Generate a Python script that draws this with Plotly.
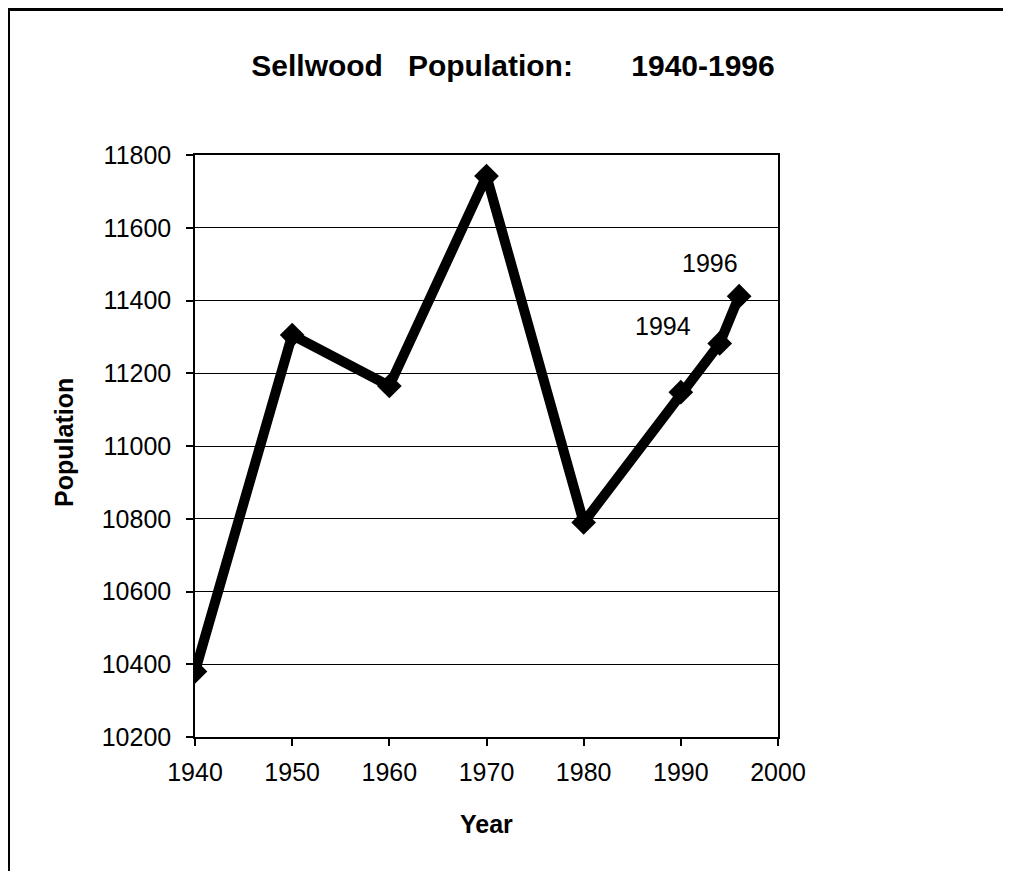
import plotly.graph_objects as go

years = [1940, 1950, 1960, 1970, 1980, 1990, 1994, 1996]
population = [10380, 11305, 11165, 11742, 10790, 11148, 11282, 11412]

y_ticks = [10200, 10400, 10600, 10800, 11000, 11200, 11400, 11600, 11800]
x_ticks = [1940, 1950, 1960, 1970, 1980, 1990, 2000]

labelled_years = [1994, 1996]
label_shifts = {1994: (-57, 17), 1996: (-29, 33)}

FONT = "Liberation Sans, Arial, sans-serif"

fig = go.Figure()
fig.add_trace(go.Scatter(
    x=years, y=population, mode="lines+markers",
    line=dict(color="black", width=10),
    marker=dict(symbol="diamond", size=19, color="black"),
    showlegend=False, hoverinfo="x+y",
))

annotations = []
for yr in labelled_years:
    i = years.index(yr)
    dx, dy = label_shifts[yr]
    annotations.append(dict(
        x=yr, y=population[i], xref="x", yref="y", text=str(yr),
        showarrow=False, xshift=dx, yshift=dy,
        font=dict(family=FONT, size=25, color="black"),
    ))

annotations.append(dict(
    x=0.5, y=-0.1495, xref="paper", yref="paper", text="<b>Year</b>",
    showarrow=False, xanchor="center", yanchor="middle",
    font=dict(family=FONT, size=25, color="black"),
))
annotations.append(dict(
    x=-0.2247, y=0.507, xref="paper", yref="paper", text="<b>Population</b>",
    showarrow=False, xanchor="center", yanchor="middle", textangle=-90,
    font=dict(family=FONT, size=25, color="black"),
))

shapes = [
    dict(type="line", xref="paper", yref="paper", x0=-0.3199, x1=-0.3199,
         y0=-0.235, y1=1.25, line=dict(color="black", width=3)),
    dict(type="line", xref="paper", yref="paper", x0=-0.322, x1=1.41,
         y0=1.25, y1=1.25, line=dict(color="black", width=3)),
]

W, H = 1003, 863
fig.update_layout(
    width=W, height=H,
    margin=dict(l=187, r=233, t=147, b=134),
    paper_bgcolor="white", plot_bgcolor="white",
    title=dict(
        text="<b>Sellwood\u00a0\u00a0 Population:\u00a0\u00a0\u00a0\u00a0\u00a0\u00a0 1940-1996</b>",
        x=505 / W, xanchor="center", y=1 - 57 / H, yanchor="middle",
        xref="container", yref="container",
        font=dict(family=FONT, size=30, color="black"),
    ),
    xaxis=dict(
        range=[1940, 2000], tickvals=x_ticks, ticktext=[str(v) for v in x_ticks],
        showgrid=False, zeroline=False,
        showline=True, linecolor="black", linewidth=1.5, mirror=True,
        ticks="outside", ticklen=7, tickcolor="black", tickwidth=1.5,
        ticklabelstandoff=5,
        tickfont=dict(family=FONT, size=25, color="black"),
    ),
    yaxis=dict(
        range=[10200, 11800], tickvals=y_ticks, ticktext=[str(v) for v in y_ticks],
        showgrid=True, gridcolor="black", gridwidth=1, zeroline=False,
        showline=True, linecolor="black", linewidth=1.5, mirror=True,
        ticks="outside", ticklen=7, tickcolor="black", tickwidth=1.5,
        ticklabelstandoff=10,
        tickfont=dict(family=FONT, size=25, color="black"),
    ),
    annotations=annotations,
    shapes=shapes,
)

fig.write_html("out.html")
